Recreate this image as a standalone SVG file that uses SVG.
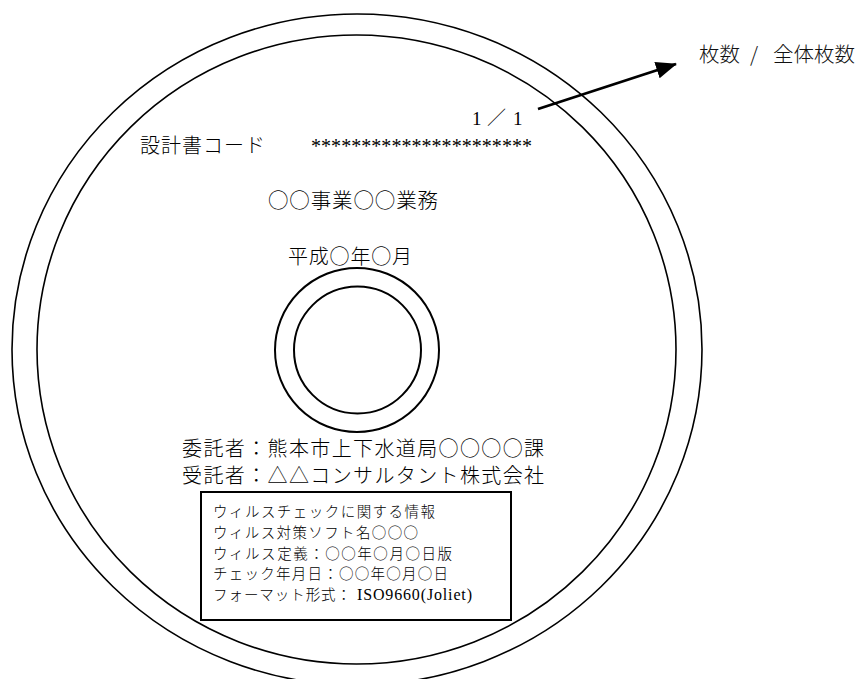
<svg xmlns="http://www.w3.org/2000/svg" width="861" height="679" viewBox="0 0 861 679">
  <style>
    .ring { fill: none; stroke: #000; stroke-width: 1.6; }
    .hub { fill: none; stroke: #000; stroke-width: 2; }
    .box { fill: #fff; stroke: #000; stroke-width: 2; }
    .mincho { font-family: "Noto Sans CJK JP", "Liberation Serif", serif; fill: #000; font-weight: 300; }
    .latin { font-family: "Liberation Serif", "Noto Sans CJK JP", serif; font-weight: normal; }
    .gothic { font-family: "Noto Sans CJK JP", "Noto Sans", sans-serif; fill: #111; font-weight: 300; }
    .conn { stroke: #000; stroke-width: 2.8; fill: none; }
  </style>
  <defs>
    <marker id="arrowhead" markerUnits="userSpaceOnUse" markerWidth="22" markerHeight="18" refX="20" refY="8.5" orient="auto">
      <path d="M0,0 L21,8.5 L0,17 z" fill="#000"/>
    </marker>
  </defs>
  <rect width="861" height="679" fill="#fff"/>

  <g id="disc">
    <ellipse class="ring" cx="357" cy="349.5" rx="345" ry="335.5"/>
    <ellipse class="ring" cx="356.5" cy="349.5" rx="319.5" ry="314.5"/>
    <circle class="hub" cx="357" cy="350" r="82"/>
    <circle class="hub" cx="357.5" cy="350" r="63.5"/>
  </g>

  <g id="label-sheet">
    <text class="mincho" y="125" font-size="19"><tspan class="latin" x="472">1</tspan><tspan x="487">／</tspan><tspan class="latin" x="513">1</tspan></text>
  </g>
  <g id="label-code">
    <text class="mincho" x="140" y="153" font-size="20" textLength="125" lengthAdjust="spacing">設計書コード</text>
    <text class="mincho latin" x="311" y="153" font-size="20" textLength="221" lengthAdjust="spacing">**********************</text>
  </g>
  <g id="label-project">
    <text class="mincho" x="268" y="207.5" font-size="20.5" textLength="170" lengthAdjust="spacing">○○事業○○業務</text>
  </g>
  <g id="label-date">
    <text class="mincho" x="288" y="263.5" font-size="20" textLength="124" lengthAdjust="spacing">平成○年○月</text>
  </g>
  <g id="label-client">
    <text class="mincho" x="182" y="455.5" font-size="20" textLength="362" lengthAdjust="spacing">委託者：熊本市上下水道局○○○○課</text>
  </g>
  <g id="label-contractor">
    <text class="mincho" x="182" y="482.5" font-size="20" textLength="362" lengthAdjust="spacing">受託者：△△コンサルタント株式会社</text>
  </g>

  <g id="virus-info">
    <rect class="box" x="201" y="492" width="310" height="128"/>
    <text class="mincho" x="213" y="517" font-size="14.5" textLength="222" lengthAdjust="spacing">ウィルスチェックに関する情報</text>
    <text class="mincho" x="213" y="538" font-size="14.5" textLength="205" lengthAdjust="spacing">ウィルス対策ソフト名○○○</text>
    <text class="mincho" x="213" y="559" font-size="14.5" textLength="239" lengthAdjust="spacing">ウィルス定義：○○年○月○日版</text>
    <text class="mincho" x="213" y="579" font-size="14.5" textLength="235" lengthAdjust="spacing">チェック年月日：○○年○月○日</text>
    <text class="mincho" y="600" font-size="14.5"><tspan x="213" textLength="138" lengthAdjust="spacing">フォーマット形式：</tspan><tspan class="latin" x="357" textLength="115" lengthAdjust="spacing" font-size="16">ISO9660(Joliet)</tspan></text>
  </g>

  <g id="callout">
    <text class="gothic" y="62" font-size="20.5"><tspan x="699">枚数</tspan><tspan x="750">/</tspan><tspan x="773">全体枚数</tspan></text>
  </g>

  <g id="connectors">
    <line class="conn" x1="538" y1="109" x2="676" y2="64" marker-end="url(#arrowhead)"/>
  </g>
</svg>
